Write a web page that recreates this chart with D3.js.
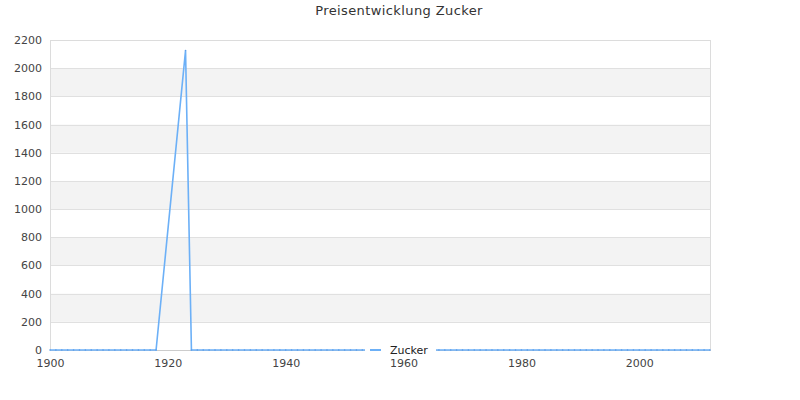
<!DOCTYPE html>
<html>
<head>
<meta charset="utf-8">
<script src="https://cdn.jsdelivr.net/npm/d3@7"></script>
<style>
  body { margin: 0; background: #fff; }
  text { font-family: "DejaVu Sans", sans-serif; }
</style>
</head>
<body>
<div id="chart"></div>
<script>
// data
const years = [
  1900, 1901, 1902, 1903, 1904, 1905, 1906, 1907, 1908, 1909,
  1910, 1911, 1912, 1913, 1914, 1915, 1916, 1917, 1918,
  1923, 1924, 1925, 1926, 1927, 1928, 1929,
  1930, 1931, 1932, 1933, 1934, 1935, 1936, 1937, 1938, 1939,
  1940, 1941, 1942, 1943, 1944, 1945, 1946, 1947, 1948, 1949,
  1950, 1951, 1952, 1953, 1954, 1955, 1956, 1957, 1958, 1959,
  1960, 1961, 1962, 1963, 1964, 1965, 1966, 1967, 1968, 1969,
  1970, 1971, 1972, 1973, 1974, 1975, 1976, 1977, 1978, 1979,
  1980, 1981, 1982, 1983, 1984, 1985, 1986, 1987, 1988, 1989,
  1990, 1991, 1992, 1993, 1994, 1995, 1996, 1997, 1998, 1999,
  2000, 2001, 2002, 2003, 2004, 2005, 2006, 2007, 2008, 2009,
  2010, 2011, 2012
];
const zucker = [
  0, 0, 0, 0, 0, 0, 0, 0, 0, 0,
  0, 0, 0, 0, 0, 0, 0, 0, 0,
  2125, 0, 0, 0, 0, 0, 0,
  0, 0, 0, 0, 0, 0, 0, 0, 0, 0,
  0, 0, 0, 0, 0, 0, 0, 0, 0, 0,
  0, 0, 0, 0, 0, 0, 0, 0, 0, 0,
  0, 0, 0, 0, 0, 0, 0, 0, 0, 0,
  0, 0, 0, 0, 0, 0, 0, 0, 0, 0,
  0, 0, 0, 0, 0, 0, 0, 0, 0, 0,
  0, 0, 0, 0, 0, 0, 0, 0, 0, 0,
  0, 0, 0, 0, 0, 0, 0, 0, 0, 0,
  0, 0, 0
];
const yTicks = [0, 200, 400, 600, 800, 1000, 1200, 1400, 1600, 1800, 2000, 2200];
const xTicks = [1900, 1920, 1940, 1960, 1980, 2000];
const seriesName = "Zucker";
const title = "Preisentwicklung Zucker";

const data = years.map((y, i) => ({ year: y, value: zucker[i] }));

// set the dimensions and margins of the graph
const W = 800, H = 400;
const margin = { top: 40, right: 90, bottom: 50, left: 50 },
  width = W - margin.left - margin.right,
  height = H - margin.top - margin.bottom;

const root = d3.select("#chart")
  .append("svg")
  .attr("width", W)
  .attr("height", H);

root.append("text")
  .attr("x", W / 2 - 1)
  .attr("y", 15)
  .attr("text-anchor", "middle")
  .attr("font-size", 13)
  .attr("letter-spacing", 0.4)
  .attr("fill", "#333")
  .text(title);

const svg = root.append("g")
  .attr("transform", `translate(${margin.left},${margin.top})`);

const x = d3.scaleLinear().domain([1900, 2012]).range([0, width]);
const y = d3.scaleLinear().domain([0, 2200]).range([height, 0]);

// alternating bands
const bands = d3.pairs(yTicks).filter((p, i) => i % 2 === 1);
svg.selectAll(".band")
  .data(bands)
  .enter()
  .append("rect")
  .attr("x", 0)
  .attr("width", width)
  .attr("y", d => y(d[1]))
  .attr("height", d => y(d[0]) - y(d[1]))
  .attr("fill", "#f3f3f3");

// grid lines
svg.selectAll(".grid")
  .data(yTicks)
  .enter()
  .append("line")
  .attr("x1", 0)
  .attr("x2", width)
  .attr("y1", d => Math.round(y(d)) + 0.5)
  .attr("y2", d => Math.round(y(d)) + 0.5)
  .attr("stroke", "#e0e0e0");

// border
svg.append("rect")
  .attr("x", 0.5)
  .attr("y", 0.5)
  .attr("width", width)
  .attr("height", height)
  .attr("fill", "none")
  .attr("stroke", "#dcdcdc");

// y axis labels
const yAxis = d3.axisLeft(y).tickValues(yTicks).tickFormat(d3.format("d")).tickSize(0).tickPadding(8);
svg.append("g")
  .call(yAxis)
  .call(g => g.select(".domain").remove())
  .selectAll("text")
  .attr("font-size", 11)
  .attr("fill", "#444")
  .attr("font-family", "DejaVu Sans, sans-serif");

// x axis
const xAxis = d3.axisBottom(x).tickValues(xTicks).tickFormat(d3.format("d")).tickSize(0).tickPadding(9);
svg.append("g")
  .attr("transform", `translate(0,${height})`)
  .call(xAxis)
  .call(g => g.select(".domain").attr("stroke", "#ccc"))
  .selectAll("text")
  .attr("font-size", 11)
  .attr("fill", "#444")
  .attr("font-family", "DejaVu Sans, sans-serif");

// the line
svg.append("path")
  .datum(data)
  .attr("fill", "none")
  .attr("stroke", "#6cb0f7")
  .attr("stroke-width", 1.6)
  .attr("d", d3.line()
    .x(d => x(d.year))
    .y(d => y(d.value)));

svg.selectAll(".pt")
  .data(data)
  .enter()
  .append("circle")
  .attr("cx", d => x(d.year))
  .attr("cy", d => y(d.value))
  .attr("r", 0.8)
  .attr("fill", "#5a9ce8");

// legend, sits on the bottom axis
const leg = svg.append("g")
  .attr("transform", `translate(${width / 2 - 15},${height})`);
leg.append("rect")
  .attr("x", 0)
  .attr("y", -7)
  .attr("width", 71)
  .attr("height", 14)
  .attr("fill", "#fff");
leg.append("line")
  .attr("x1", 5).attr("x2", 16)
  .attr("y1", 0).attr("y2", 0)
  .attr("stroke", "#6cb0f7")
  .attr("stroke-width", 2);
leg.append("text")
  .attr("x", 25)
  .attr("y", 4)
  .attr("font-size", 11)
  .attr("fill", "#222")
  .text(seriesName);
</script>
</body>
</html>
